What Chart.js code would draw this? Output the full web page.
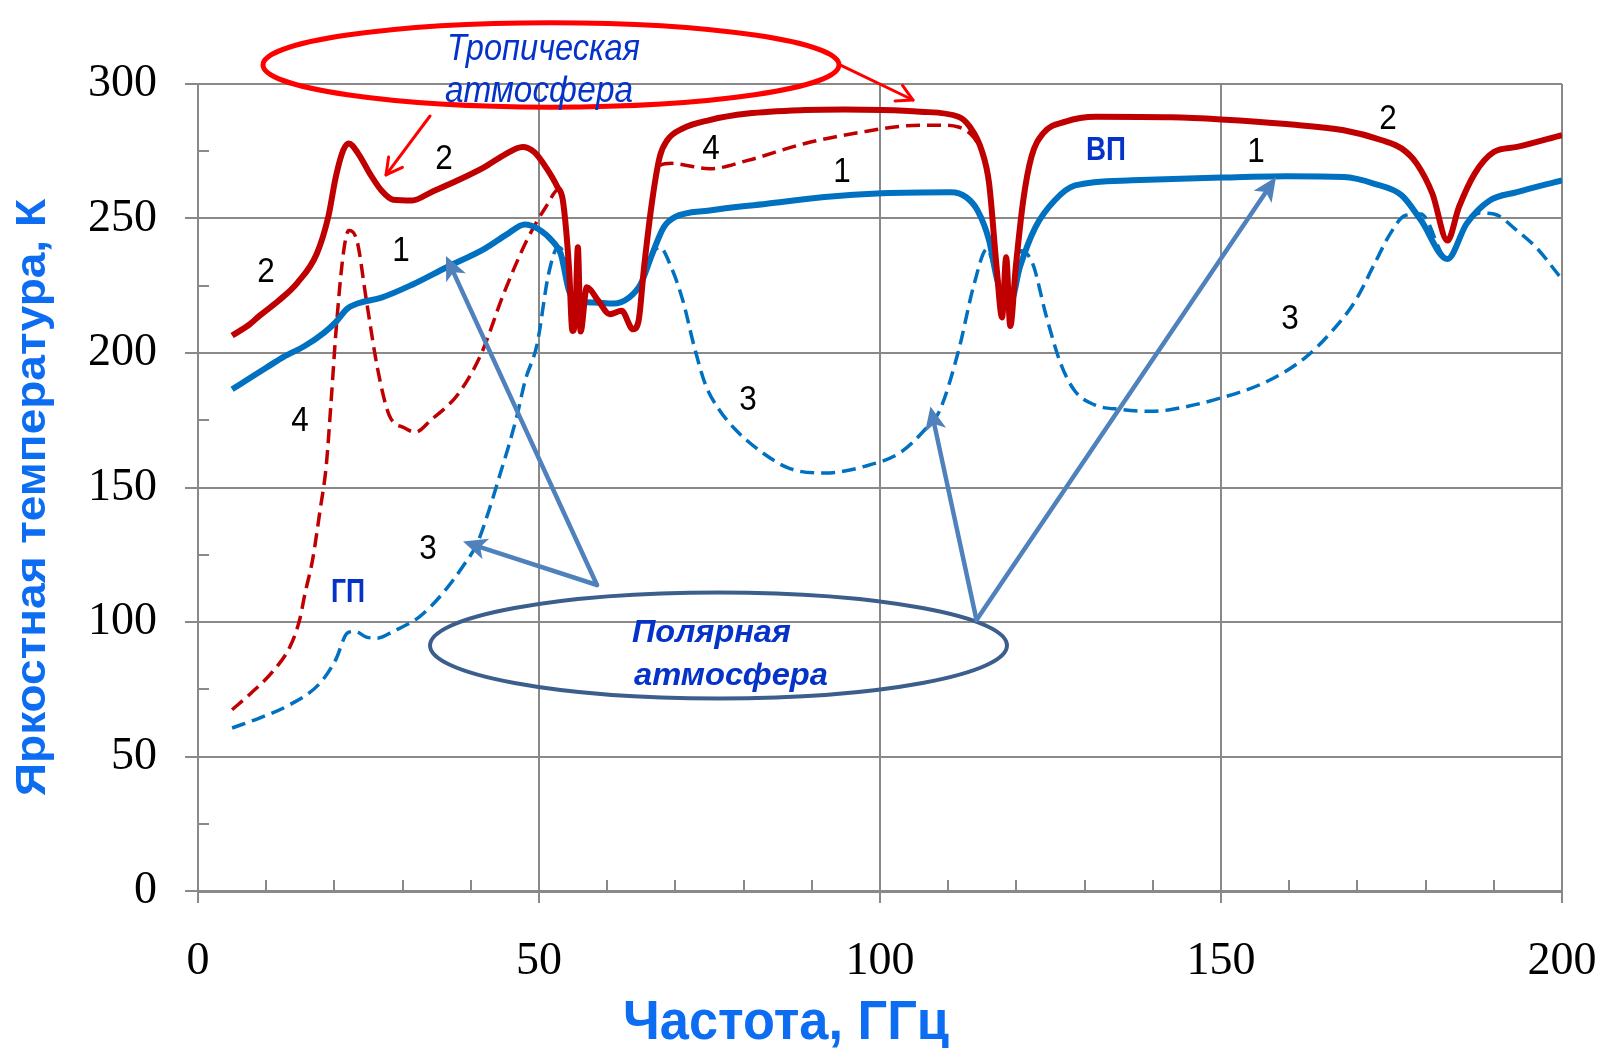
<!DOCTYPE html>
<html><head><meta charset="utf-8">
<script src="https://cdn.jsdelivr.net/npm/chart.js@4.4.1/dist/chart.umd.min.js"></script>
<style>html,body{margin:0;padding:0;background:#fff;overflow:hidden}canvas{display:block}</style>
</head><body>
<canvas id="c" width="1600" height="1048"></canvas>
<script>
// ---- Data (frequency, GHz / brightness temperature, K) ----
// 1: polar atmosphere, vertical polarization (solid blue)
const freqPolarVP = [5,7.5,10,12.5,15.7,18.5,20.2,21.9,23.5,26.9,31.4,36.4,42,45.4,47.9,49.9,52.1,53.2,54.4,55.3,58.1,60.9,63.2,64.9,66.6,68.3,69.9,75,83.4,91.9,100.3,110.4,112.6,114.3,116,117.1,118.3,119.2,120.5,122.8,125.6,128.6,137,150,159.6,168,172.5,176.5,179.3,183.2,186,189.4,193.4,200];
const tbPolarVP = [186.5,190.5,194.5,198.5,202.7,207.6,211.5,216.5,218.5,220.6,225.4,231.8,238.7,244.3,247.8,246.1,241.2,236.8,223.1,219.4,218.8,218.4,220.6,225.6,236.8,246.8,250.5,253,255.5,258,259.4,259.8,258,253,241.8,228.1,219.4,219.4,231.8,246.8,256.7,262.3,264.2,265.2,265.7,265.4,262.9,258.6,249.4,234.9,248,256.7,259.8,264.2];
// 2: tropical atmosphere, vertical polarization (solid red)
const freqTropVP = [5,7.5,9,11.8,14.6,17.4,19.1,20.2,21.3,22.1,23.5,25.2,26.9,28.6,31.4,34.2,38.1,42,44.8,47.6,49.3,51,52.7,53.5,54.4,54.9,55.3,55.7,56.1,57,58.7,60.4,62.1,63.8,64.6,65.4,66.6,67.7,68.8,71.1,75,80.6,89,94.7,100.3,105.9,111.5,113.2,114.9,116,117.1,117.9,118.5,119.1,119.9,121,122.2,123.9,127.2,131.7,142.7,150,159.6,168,173.6,176.5,178.7,181,183.2,184.9,187.2,190,193.4,200];
const tbTropVP = [206.5,210.5,213.8,219.4,226.2,236.8,250.6,265.4,275.4,277.9,274.1,266.7,260.4,257,256.7,259.8,264.2,269.1,273.5,276.6,274.7,269.1,261.7,256.7,231.8,208.2,212,239.3,208,224.4,219.4,214.4,215.7,208.8,211.9,231.8,256.7,272.9,279.1,283.5,286.6,289,290.3,290.5,290.3,289.7,287.8,284,275.4,263,231.8,213.2,235.6,210,231.8,256.7,272.9,281.6,286,287.8,287.6,286.8,285.1,282.8,279.1,276,270.4,259.2,241.8,254.3,266.7,274.7,276.6,281];
// 3: polar atmosphere, horizontal polarization (dashed blue)
const freqPolarHP = [5,9,13.5,17.9,20.2,21.9,23,24.7,26.3,28.6,32.5,35.9,39.2,40.9,42.6,44.3,45.5,46.8,48,49.7,51.4,52.8,53.6,54.4,55.3,58.1,60.9,63.2,64.9,66.6,67.7,69.4,71.1,72.8,74.4,76.4,78.9,82.3,86.8,91.9,97.5,103.1,106.5,108.7,111.5,113.8,115.7,117.1,118.3,119.2,120.7,122.4,124.3,126.5,128.6,131.4,135.4,139.9,142.7,150,156.8,162.4,166.3,169.7,172.5,174.8,177,179.3,183.2,186,188,190,193.4,196.2,199.6];
const tbPolarHP = [60.6,64.3,69.3,77.3,86,95.9,96.5,94.4,94,96.5,102,110.7,122,129,141,155,165,177,190,203,229.3,239.3,236.8,223.1,219.4,218.8,218.4,220.6,225.6,236.8,239.3,231.8,219.4,202,188.3,179,171.3,163.8,157,155.4,157.7,163.2,171.3,178.3,200.7,225.6,238.7,228.1,219.4,219.4,238,233.1,214.5,196,185.8,180.8,179,178.3,179,183.3,189.5,198.4,208.2,219.4,233.1,244.3,251.1,251.7,234.9,248,252,251.7,245.5,239.3,228.7];
// 4: tropical atmosphere, horizontal polarization (dashed red)
const freqTropHP = [5,7.8,11.2,13.5,14.9,15.7,16.8,17.9,18.8,19.6,20.2,21.3,22.1,23.3,24.7,26.3,28,30.3,31.9,34.2,38.1,41.5,44.8,48.2,51,53,53.5,54.4,54.9,55.3,55.7,56.1,57,58.7,60.4,62.1,63.8,64.6,65.4,66.6,67.6,69.5,71.1,75,80.6,89,97.5,103.1,108.7,111.5,113.7,114.9];
const tbTropHP = [67.4,73.6,82.3,90.9,100.8,110.7,123.1,141.6,158,185,207,236.8,245.5,241.8,219.4,194.6,177.1,172.1,170.6,175.2,184.6,199.5,221.9,241.8,254.3,261.1,256.7,231.8,208.2,212,239.3,208,224.4,219.4,214.4,215.7,208.8,211.9,231.8,256.7,269.5,270.5,270,268.5,271.6,277.9,282.2,284.3,284.7,284,280.3,275.4];

const xTickValues = [0,50,100,150,200];
const yTickValues = [0,50,100,150,200,250,300];

const toPoints = (xs, ys) => xs.map((x, i) => ({x, y: ys[i]}));

// ---- Annotations (in data coordinates) ----
const numberNotes = [
  {t:'2', x:36.07, y:273.2}, {t:'2', x:9.97, y:230.9}, {t:'1', x:29.77, y:238.7},
  {t:'4', x:14.96, y:175.5}, {t:'3', x:33.72, y:127.9}, {t:'4', x:75.22, y:276.6},
  {t:'1', x:94.43, y:268.4}, {t:'3', x:80.65, y:183.3}, {t:'1', x:155.13, y:275.8},
  {t:'2', x:174.49, y:288.1}, {t:'3', x:160.12, y:213.4}
];
const polNotes = [{t:'ГП', x:21.99, y:111.9, w:34}, {t:'ВП', x:133.14, y:276.2, w:40}];

const RED = '#C00000', BLUE = '#0070C0', GRID = '#898989';
const NOTE_BLUE = '#0532C8', TITLE_BLUE = '#0D6DF2', ARROW_BLUE = '#4F81BD';

function fitText(ctx, text, cx, by, font, w, color) {
  ctx.save();
  ctx.font = font; ctx.fillStyle = color; ctx.textAlign = 'center'; ctx.textBaseline = 'alphabetic';
  const m = ctx.measureText(text).width;
  ctx.translate(cx, by); ctx.scale(w / m, 1);
  ctx.fillText(text, 0, 0);
  ctx.restore();
}
function arrow(ctx, x1, y1, x2, y2, color, lw, head, filled) {
  const a = Math.atan2(y2 - y1, x2 - x1);
  ctx.save();
  ctx.strokeStyle = color; ctx.fillStyle = color; ctx.lineWidth = lw; ctx.lineCap = 'round'; ctx.lineJoin = 'round';
  if (filled) {
    const bx = x2 - Math.cos(a) * head * 0.75, by = y2 - Math.sin(a) * head * 0.75;
    ctx.beginPath(); ctx.moveTo(x1, y1); ctx.lineTo(bx, by); ctx.stroke();
    const w = head * 0.45;
    ctx.beginPath();
    ctx.moveTo(x2, y2);
    ctx.lineTo(x2 - Math.cos(a) * head + Math.cos(a + Math.PI / 2) * w, y2 - Math.sin(a) * head + Math.sin(a + Math.PI / 2) * w);
    ctx.lineTo(bx, by);
    ctx.lineTo(x2 - Math.cos(a) * head - Math.cos(a + Math.PI / 2) * w, y2 - Math.sin(a) * head - Math.sin(a + Math.PI / 2) * w);
    ctx.closePath(); ctx.fill();
  } else {
    ctx.beginPath(); ctx.moveTo(x1, y1); ctx.lineTo(x2, y2); ctx.stroke();
    ctx.beginPath();
    ctx.moveTo(x2 - Math.cos(a - 0.5) * head, y2 - Math.sin(a - 0.5) * head);
    ctx.lineTo(x2, y2);
    ctx.lineTo(x2 - Math.cos(a + 0.5) * head, y2 - Math.sin(a + 0.5) * head);
    ctx.stroke();
  }
  ctx.restore();
}

const decor = {
  id: 'decor',
  beforeDatasetsDraw(chart) {
    const {ctx, scales: {x, y}} = chart;
    ctx.save(); ctx.strokeStyle = GRID; ctx.lineWidth = 2;
    for (let v = 25; v < 300; v += 50) {
      const py = Math.round(y.getPixelForValue(v));
      ctx.beginPath(); ctx.moveTo(x.left, py); ctx.lineTo(x.left + 11, py); ctx.stroke();
    }
    for (let v = 10; v < 200; v += 10) {
      if (v % 50 === 0) continue;
      const px = Math.round(x.getPixelForValue(v));
      ctx.beginPath(); ctx.moveTo(px, y.bottom); ctx.lineTo(px, y.bottom - 11); ctx.stroke();
    }
    ctx.restore();
  },
  afterDraw(chart) {
    const {ctx, scales: {x, y}} = chart;
    const X = v => x.getPixelForValue(v), Y = v => y.getPixelForValue(v);
    const ell = (cx, cy, rx, ry, color, lw) => {
      ctx.save(); ctx.strokeStyle = color; ctx.lineWidth = lw;
      ctx.beginPath();
      ctx.ellipse(X(cx), Y(cy), X(cx + rx) - X(cx), Y(cy) - Y(cy + ry), 0, 0, Math.PI * 2);
      ctx.stroke(); ctx.restore();
    };
    ell(51.76, 307.1, 42.23, 15.7, '#FF0000', 5);
    ell(76.32, 91.26, 42.30, 19.70, '#3B5E8C', 4);
    arrow(ctx, X(34.02), Y(288.1), X(27.57), Y(266.2), '#FF0000', 3, 18, false);
    arrow(ctx, X(94.13), Y(307.1), X(104.84), Y(294.05), '#FF0000', 3, 18, false);
    arrow(ctx, X(58.5), Y(113.75), X(36.36), Y(236.06), ARROW_BLUE, 4.5, 24, true);
    arrow(ctx, X(58.5), Y(113.75), X(38.86), Y(129.92), ARROW_BLUE, 4.5, 24, true);
    arrow(ctx, X(114.15), Y(100.74), X(107.4), Y(180.11), ARROW_BLUE, 4.5, 24, true);
    arrow(ctx, X(114.15), Y(100.74), X(158.07), Y(265.43), ARROW_BLUE, 4.5, 24, true);
    fitText(ctx, 'Тропическая', X(50.66), Y(309.0), 'italic 37px "Liberation Sans"', 193, NOTE_BLUE);
    fitText(ctx, 'атмосфера', X(50.0), Y(293.4), 'italic 37px "Liberation Sans"', 188, NOTE_BLUE);
    fitText(ctx, 'Полярная', X(75.29), Y(92.57), 'italic bold 32px "Liberation Sans"', 159, NOTE_BLUE);
    fitText(ctx, 'атмосфера', X(78.15), Y(76.58), 'italic bold 32px "Liberation Sans"', 194, NOTE_BLUE);
    numberNotes.forEach(n => fitText(ctx, n.t, X(n.x), Y(n.y) + 12.5, '35px "Liberation Sans"', 17.5, '#000'));
    polNotes.forEach(n => fitText(ctx, n.t, X(n.x), Y(n.y) + 12, 'bold 33px "Liberation Sans"', n.w, NOTE_BLUE));
    fitText(ctx, 'Частота, ГГц', 786, 1039, 'bold 56px "Liberation Sans"', 326, TITLE_BLUE);
    ctx.save();
    ctx.translate(45, 497.5); ctx.rotate(-Math.PI / 2);
    fitText(ctx, 'Яркостная температура, К', 0, 0, 'bold 42px "Liberation Sans"', 597, TITLE_BLUE);
    ctx.restore();
  }
};

const ds = (label, xs, ys, color, w, dash) => ({
  label, data: toPoints(xs, ys), borderColor: color, backgroundColor: color,
  borderWidth: w, borderDash: dash, pointRadius: 0, cubicInterpolationMode: 'monotone', fill: false
});

const noPad = s => { s.paddingLeft = 0; s.paddingRight = 0; s.paddingTop = 0; s.paddingBottom = 0; };

new Chart(document.getElementById('c'), {
  type: 'line',
  data: { datasets: [
    ds('2', freqTropVP, tbTropVP, RED, 6, []),
    ds('1', freqPolarVP, tbPolarVP, BLUE, 6, []),
    ds('4', freqTropHP, tbTropHP, RED, 3.5, [14, 7]),
    ds('3', freqPolarHP, tbPolarHP, BLUE, 3.5, [14, 7])
  ]},
  options: {
    responsive: false, animation: false, devicePixelRatio: 1,
    layout: { padding: { left: 0, right: 38, top: 84, bottom: 0 } },
    plugins: { legend: { display: false }, tooltip: { enabled: false } },
    scales: {
      x: {
        type: 'linear', min: 0, max: 200,
        afterBuildTicks: s => { s.ticks = xTickValues.map(v => ({value: v})); },
        afterFit: s => { s.height = 157; noPad(s); },
        ticks: { font: { family: 'Liberation Serif', size: 46 }, color: '#000', padding: 31, maxRotation: 0, autoSkip: false },
        grid: { color: GRID, lineWidth: 2, tickLength: 12 },
        border: { color: GRID, width: 3 }
      },
      y: {
        min: 0, max: 300,
        afterBuildTicks: s => { s.ticks = yTickValues.map(v => ({value: v})); },
        afterFit: s => { s.width = 198; noPad(s); },
        ticks: { font: { family: 'Liberation Serif', size: 46 }, color: '#000', padding: 28, autoSkip: false },
        grid: { color: GRID, lineWidth: 2, tickLength: 13 },
        border: { color: GRID, width: 2 }
      }
    }
  },
  plugins: [decor]
});
</script></body></html>
